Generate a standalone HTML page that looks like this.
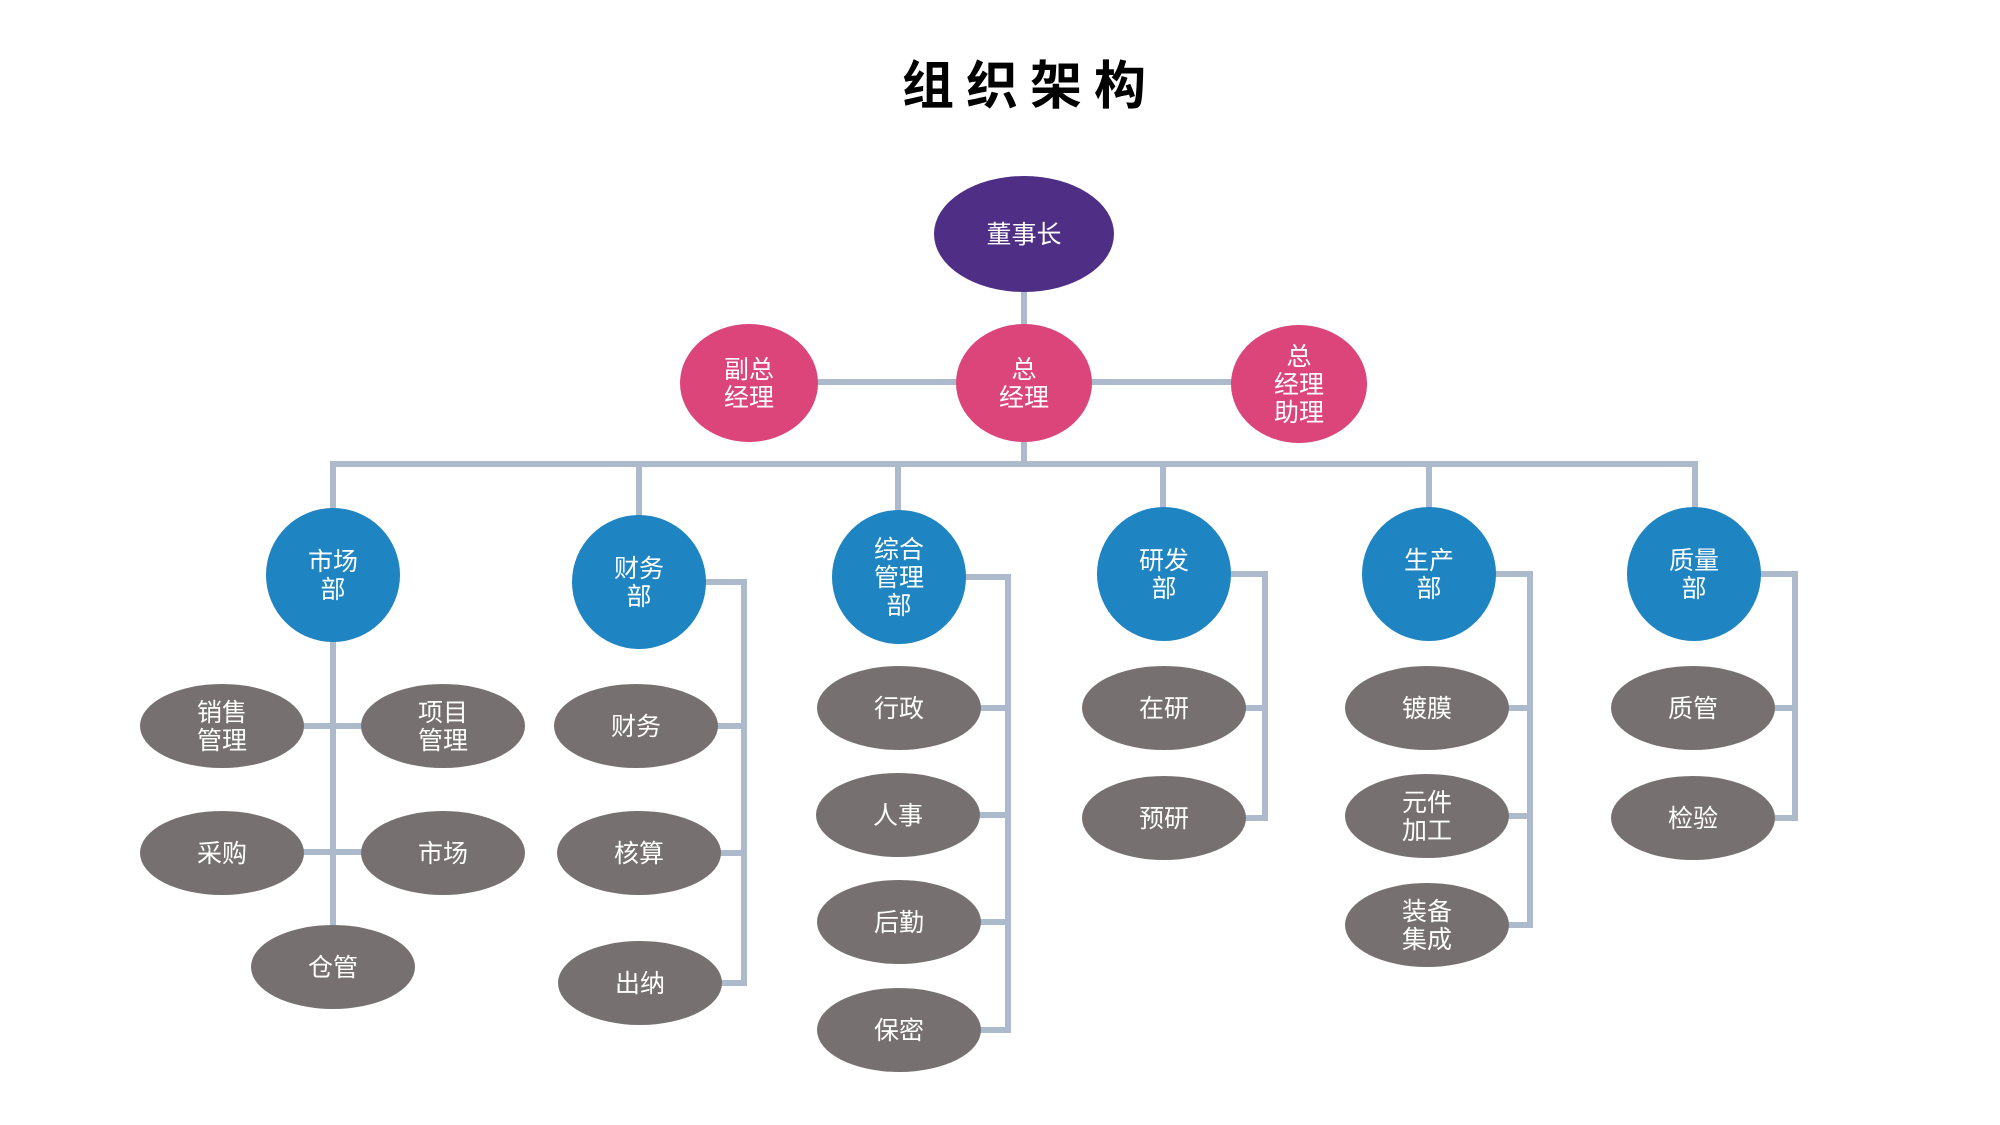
<!DOCTYPE html>
<html>
<head>
<meta charset="utf-8">
<style>
html,body{margin:0;padding:0;background:#fff;}
svg{display:block;}
text{font-family:"Liberation Sans","Noto Sans CJK SC",sans-serif;}
</style>
</head>
<body>
<svg width="2000" height="1125" viewBox="0 0 2000 1125" xmlns="http://www.w3.org/2000/svg">
<rect width="2000" height="1125" fill="#fff"/>
<!-- Title -->
<g font-size="52" font-weight="bold" fill="#000" text-anchor="middle">
<text x="928" y="104">组</text>
<text x="992" y="104">织</text>
<text x="1056" y="104">架</text>
<text x="1120" y="104">构</text>
</g>

<!-- Connectors -->
<g stroke="#adbacb" stroke-width="6" fill="none" stroke-linecap="butt">
<path d="M1024,288 V328"/>
<path d="M812,382 H1236"/>
<path d="M1024,438 V464"/>
<path d="M333,512 V464 H1695 V512"/>
<path d="M639,464 V520"/>
<path d="M898,464 V514"/>
<path d="M1163,464 V510"/>
<path d="M1429,464 V510"/>
<!-- 市场部 -->
<path d="M333,638 V928"/>
<path d="M300,726 H366"/>
<path d="M300,852 H366"/>
<!-- 财务部 -->
<path d="M704,582 H744 V983 H716"/>
<path d="M714,726 H744"/>
<path d="M716,853 H744"/>
<!-- 综合管理部 -->
<path d="M963,577 H1008 V1030 H976"/>
<path d="M976,708 H1008"/>
<path d="M976,815 H1008"/>
<path d="M976,922 H1008"/>
<!-- 研发部 -->
<path d="M1228,574 H1265 V818 H1242"/>
<path d="M1242,708 H1265"/>
<!-- 生产部 -->
<path d="M1493,574 H1530 V925 H1505"/>
<path d="M1505,708 H1530"/>
<path d="M1505,816 H1530"/>
<!-- 质量部 -->
<path d="M1758,574 H1795 V818 H1771"/>
<path d="M1771,708 H1795"/>
</g>

<!-- Top nodes -->
<ellipse cx="1024" cy="234" rx="90" ry="58" fill="#4f2e86"/>
<ellipse cx="749" cy="383" rx="69" ry="59" fill="#dc4579"/>
<ellipse cx="1024" cy="383" rx="68" ry="59" fill="#dc4579"/>
<ellipse cx="1299" cy="384" rx="68" ry="59" fill="#dc4579"/>

<!-- Departments -->
<g fill="#1e84c2">
<ellipse cx="333" cy="575" rx="67" ry="67"/>
<ellipse cx="639" cy="582" rx="67" ry="67"/>
<ellipse cx="899" cy="577" rx="67" ry="67"/>
<ellipse cx="1164" cy="574" rx="67" ry="67"/>
<ellipse cx="1429" cy="574" rx="67" ry="67"/>
<ellipse cx="1694" cy="574" rx="67" ry="67"/>
</g>

<!-- Gray sub nodes -->
<g fill="#767170">
<ellipse cx="222" cy="726" rx="82" ry="42"/>
<ellipse cx="443" cy="726" rx="82" ry="42"/>
<ellipse cx="222" cy="853" rx="82" ry="42"/>
<ellipse cx="443" cy="853" rx="82" ry="42"/>
<ellipse cx="333" cy="967" rx="82" ry="42"/>
<ellipse cx="636" cy="726" rx="82" ry="42"/>
<ellipse cx="639" cy="853" rx="82" ry="42"/>
<ellipse cx="640" cy="983" rx="82" ry="42"/>
<ellipse cx="899" cy="708" rx="82" ry="42"/>
<ellipse cx="898" cy="815" rx="82" ry="42"/>
<ellipse cx="899" cy="922" rx="82" ry="42"/>
<ellipse cx="899" cy="1030" rx="82" ry="42"/>
<ellipse cx="1164" cy="708" rx="82" ry="42"/>
<ellipse cx="1164" cy="818" rx="82" ry="42"/>
<ellipse cx="1427" cy="708" rx="82" ry="42"/>
<ellipse cx="1427" cy="816" rx="82" ry="42"/>
<ellipse cx="1427" cy="925" rx="82" ry="42"/>
<ellipse cx="1693" cy="708" rx="82" ry="42"/>
<ellipse cx="1693" cy="818" rx="82" ry="42"/>
</g>

<!-- Labels -->
<g font-size="25" fill="#ffffff" text-anchor="middle">
<text x="1024" y="243">董事长</text>
<text x="749" y="378">副总</text><text x="749" y="406">经理</text>
<text x="1024" y="378">总</text><text x="1024" y="406">经理</text>
<text x="1299" y="365">总</text><text x="1299" y="393">经理</text><text x="1299" y="421">助理</text>

<text x="333" y="570">市场</text><text x="333" y="598">部</text>
<text x="639" y="577">财务</text><text x="639" y="605">部</text>
<text x="899" y="558">综合</text><text x="899" y="586">管理</text><text x="899" y="614">部</text>
<text x="1164" y="569">研发</text><text x="1164" y="597">部</text>
<text x="1429" y="569">生产</text><text x="1429" y="597">部</text>
<text x="1694" y="569">质量</text><text x="1694" y="597">部</text>

<text x="222" y="721">销售</text><text x="222" y="749">管理</text>
<text x="443" y="721">项目</text><text x="443" y="749">管理</text>
<text x="222" y="862">采购</text>
<text x="443" y="862">市场</text>
<text x="333" y="976">仓管</text>

<text x="636" y="735">财务</text>
<text x="639" y="862">核算</text>
<text x="640" y="992">出纳</text>

<text x="899" y="717">行政</text>
<text x="898" y="824">人事</text>
<text x="899" y="931">后勤</text>
<text x="899" y="1039">保密</text>

<text x="1164" y="717">在研</text>
<text x="1164" y="827">预研</text>

<text x="1427" y="717">镀膜</text>
<text x="1427" y="811">元件</text><text x="1427" y="839">加工</text>
<text x="1427" y="920">装备</text><text x="1427" y="948">集成</text>

<text x="1693" y="717">质管</text>
<text x="1693" y="827">检验</text>
</g>
</svg>
</body>
</html>
